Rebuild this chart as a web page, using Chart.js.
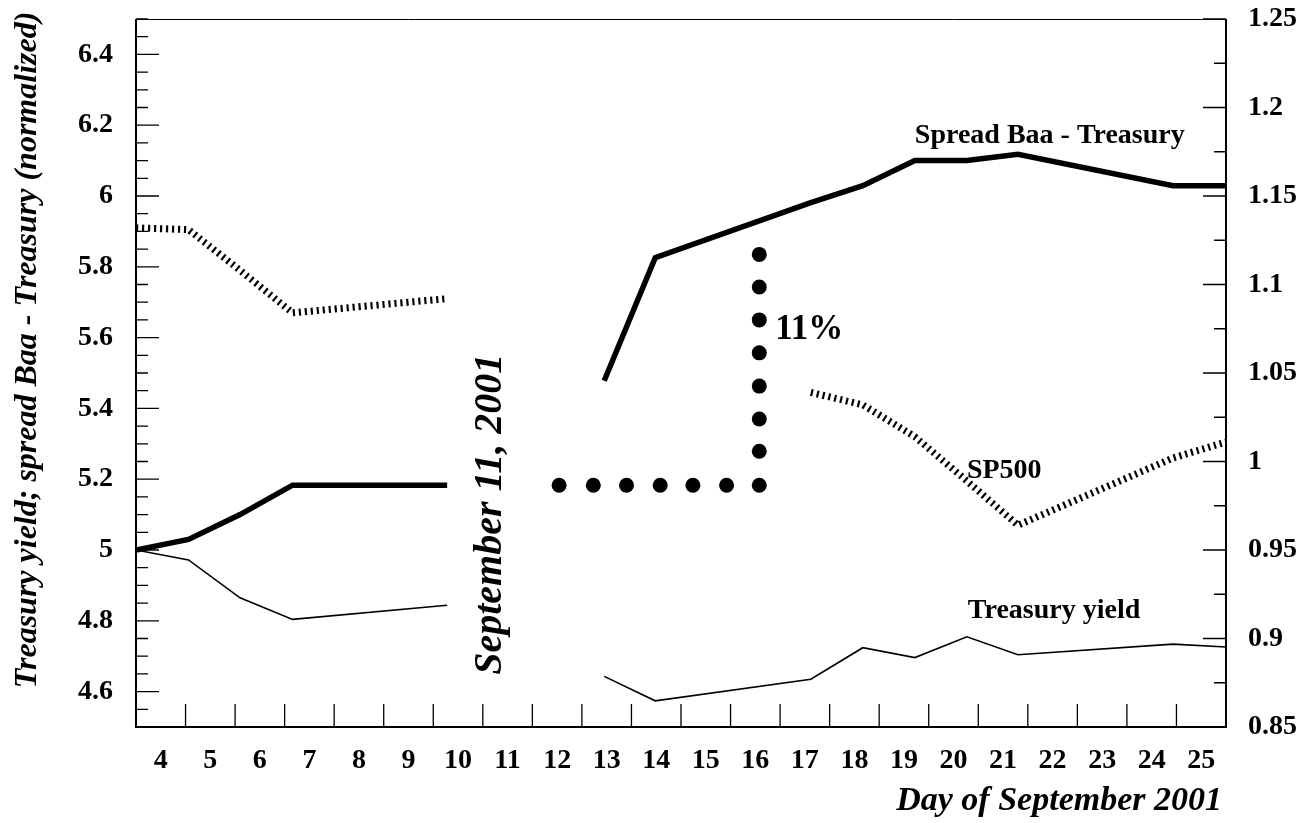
<!DOCTYPE html>
<html>
<head>
<meta charset="utf-8">
<script src="https://cdn.jsdelivr.net/npm/chart.js@4.4.1/dist/chart.umd.min.js"></script>
<style>
  html, body { margin: 0; padding: 0; background: #fff; }
  #wrap { width: 1309px; height: 823px; position: relative; }
</style>
</head>
<body>
<div id="wrap"><canvas id="chart"></canvas></div>
<script>
// where each trading day sits on the day axis, null row = gap
const dayPos   = [3.5, 4.56, 5.6, 6.66, 9.78, 11.5, 12.95, 13.98, 17.12, 18.17, 19.22, 20.27, 21.3, 24.43, 25.5];
const spread   = [5.0, 5.03, 5.1, 5.183, 5.183, null, 5.478, 5.826, 5.981, 6.029, 6.1, 6.1, 6.118, 6.029, 6.029];
const treasury = [5.0, 4.972, 4.865, 4.804, 4.844, null, 4.643, 4.574, 4.635, 4.724, 4.696, 4.755, 4.704, 4.734, 4.726];
const sp500    = [1.132, 1.131, 1.108, 1.084, 1.092, null, null, null, 1.039, 1.032, 1.014, 0.989, 0.964, 1.002, 1.011];

// the dotted "11%" bracket
const dotX = [12.04, 12.73, 13.4, 14.08, 14.74, 15.42, 16.08, 16.08, 16.08, 16.08, 16.08, 16.08, 16.08, 16.08];
const dotY = [5.183, 5.183, 5.183, 5.183, 5.183, 5.183, 5.183, 5.279, 5.37, 5.463, 5.557, 5.65, 5.743, 5.835];

const dayLabels  = [4, 5, 6, 7, 8, 9, 10, 11, 12, 13, 14, 15, 16, 17, 18, 19, 20, 21, 22, 23, 24, 25];
const leftTicks  = [4.6, 4.8, 5.0, 5.2, 5.4, 5.6, 5.8, 6.0, 6.2, 6.4];
const rightTicks = [0.85, 0.9, 0.95, 1.0, 1.05, 1.1, 1.15, 1.2, 1.25];

const serif = '"Liberation Serif", "Times New Roman", serif';
Chart.defaults.font.family = serif;
Chart.defaults.font.weight = 'bold';
Chart.defaults.color = '#000';

const pts = (xs, ys) => xs.map((x, i) => ({ x, y: ys[i] }));
const fmt = v => String(Number(v.toFixed(2)));
const noPad = s => { s.paddingTop = 0; s.paddingBottom = 0; s.paddingLeft = 0; s.paddingRight = 0; };

const frameAndTicks = {
  id: 'frameAndTicks',
  afterDatasetsDraw(chart) {
    const { ctx, chartArea: a, scales } = chart;
    ctx.save();
    ctx.strokeStyle = '#000';
    ctx.lineWidth = 1.3;
    ctx.beginPath();
    // left axis: major every 0.2, minor every 0.05
    for (let i = 0; i <= 40; i++) {
      const v = 4.5 + i * 0.05;
      const y = scales.y.getPixelForValue(v);
      const major = leftTicks.some(t => Math.abs(t - v) < 1e-6);
      ctx.moveTo(a.left, y);
      ctx.lineTo(a.left + (major ? 23 : 12), y);
    }
    // right axis: major every 0.05, minor every 0.025
    for (let i = 0; i <= 16; i++) {
      const v = 0.85 + i * 0.025;
      const y = scales.y2.getPixelForValue(v);
      const major = rightTicks.some(t => Math.abs(t - v) < 1e-6);
      ctx.moveTo(a.right, y);
      ctx.lineTo(a.right - (major ? 23 : 12), y);
    }
    // day axis: ticks between the labels
    dayLabels.slice(0, -1).forEach(d => {
      const x = scales.x.getPixelForValue(d + 0.5);
      ctx.moveTo(x, a.bottom);
      ctx.lineTo(x, a.bottom - 23);
    });
    ctx.stroke();

    ctx.lineWidth = 2;
    ctx.beginPath();
    ctx.moveTo(a.left, a.top);
    ctx.lineTo(a.left, a.bottom);
    ctx.lineTo(a.right, a.bottom);
    ctx.lineTo(a.right, a.top);
    ctx.stroke();
    ctx.lineWidth = 1;
    ctx.beginPath();
    ctx.moveTo(a.left, a.top + 0.5);
    ctx.lineTo(a.right, a.top + 0.5);
    ctx.stroke();

    // notes inside the plot (data coordinates, left axis)
    ctx.fillStyle = '#000';
    ctx.textBaseline = 'alphabetic';
    ctx.textAlign = 'left';
    const note = (txt, d, v, font) => {
      ctx.font = font;
      ctx.fillText(txt, scales.x.getPixelForValue(d), scales.y.getPixelForValue(v));
    };
    note('Spread Baa - Treasury', 19.22, 6.15, 'bold 28px ' + serif);
    note('SP500', 20.27, 5.202, 'bold 28px ' + serif);
    note('Treasury yield', 20.29, 4.809, 'bold 28px ' + serif);
    note('11%', 16.4, 5.596, 'bold 35px ' + serif);

    ctx.save();
    ctx.translate(scales.x.getPixelForValue(10.87), scales.y.getPixelForValue(5.101));
    ctx.rotate(-Math.PI / 2);
    ctx.textAlign = 'center';
    ctx.font = 'italic bold 40px ' + serif;
    ctx.fillText('September 11, 2001', 0, 0);
    ctx.restore();

    // axis titles
    ctx.save();
    ctx.translate(36, 350);
    ctx.rotate(-Math.PI / 2);
    ctx.textAlign = 'center';
    ctx.font = 'italic bold 32px ' + serif;
    ctx.fillText('Treasury yield; spread Baa - Treasury (normalized)', 0, 0);
    ctx.restore();

    ctx.textAlign = 'right';
    ctx.font = 'italic bold 34px ' + serif;
    ctx.fillText('Day of September 2001', 1222, 810);
    ctx.restore();
  }
};

new Chart(document.getElementById('chart'), {
  type: 'line',
  data: {
    datasets: [
      {
        label: 'Spread Baa - Treasury',
        data: pts(dayPos, spread),
        yAxisID: 'y',
        borderColor: '#000',
        borderWidth: 5.5,
        borderJoinStyle: 'miter',
        pointRadius: 0,
        tension: 0,
        spanGaps: false,
      },
      {
        label: 'Treasury yield',
        data: pts(dayPos, treasury),
        yAxisID: 'y',
        borderColor: '#000',
        borderWidth: 1.6,
        pointRadius: 0,
        tension: 0,
        spanGaps: false,
      },
      {
        label: 'SP500',
        data: pts(dayPos, sp500),
        yAxisID: 'y2',
        borderColor: '#000',
        borderWidth: 7,
        borderDash: [2.2, 3.8],
        borderCapStyle: 'butt',
        pointRadius: 0,
        tension: 0,
        spanGaps: false,
      },
      {
        type: 'scatter',
        label: '11%',
        data: pts(dotX, dotY),
        yAxisID: 'y',
        showLine: false,
        pointRadius: 7.5,
        pointBackgroundColor: '#000',
        pointBorderWidth: 0,
      },
    ],
  },
  options: {
    responsive: true,
    maintainAspectRatio: false,
    animation: false,
    layout: { padding: { top: 19 } },
    plugins: { legend: { display: false }, tooltip: { enabled: false } },
    scales: {
      x: {
        type: 'linear',
        min: 3.5,
        max: 25.5,
        grid: { display: false },
        border: { display: false },
        afterBuildTicks: s => { s.ticks = dayLabels.map(v => ({ value: v })); },
        afterFit: s => { s.height = 96; noPad(s); },
        ticks: { autoSkip: false, maxRotation: 0, padding: 9, font: { size: 28, weight: 'bold' }, color: '#000' },
      },
      y: {
        position: 'left',
        min: 4.5,
        max: 6.5,
        grid: { display: false },
        border: { display: false },
        afterBuildTicks: s => { s.ticks = leftTicks.map(v => ({ value: v })); },
        afterFit: s => { s.width = 136; noPad(s); },
        ticks: { padding: 15, callback: fmt, font: { size: 28, weight: 'bold' }, color: '#000' },
      },
      y2: {
        position: 'right',
        min: 0.85,
        max: 1.25,
        grid: { display: false },
        border: { display: false },
        afterBuildTicks: s => { s.ticks = rightTicks.map(v => ({ value: v })); },
        afterFit: s => { s.width = 83; noPad(s); },
        ticks: { padding: 14, callback: fmt, font: { size: 28, weight: 'bold' }, color: '#000' },
      },
    },
  },
  plugins: [frameAndTicks],
});
</script>
</body>
</html>
